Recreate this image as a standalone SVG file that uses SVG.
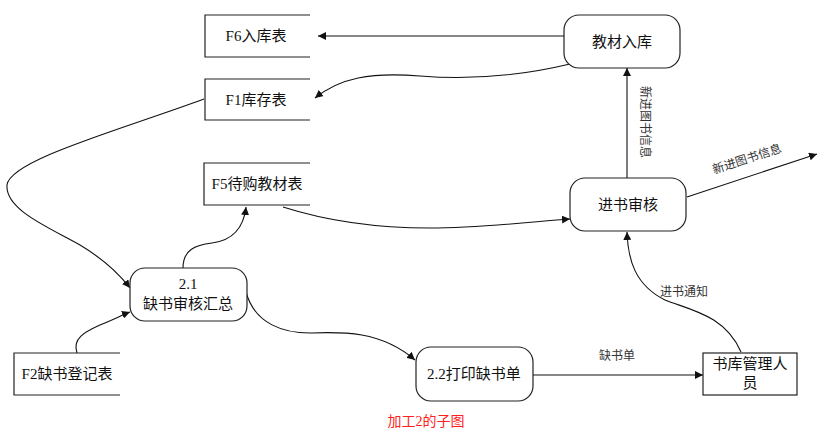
<svg xmlns="http://www.w3.org/2000/svg" width="822" height="432" viewBox="0 0 822 432">
<style>
.box{fill:none;stroke:#222;stroke-width:1.2}
.proc{fill:#fff;stroke:#222;stroke-width:1.2}
.t{font-family:"Liberation Serif","Noto Sans CJK SC",serif;font-size:15px;fill:#111;text-anchor:middle;dominant-baseline:central}
.lbl{font-family:"Liberation Serif","Noto Sans CJK SC",serif;font-size:12px;fill:#333;text-anchor:middle;dominant-baseline:central}
.cap{font-family:"Liberation Serif","Noto Sans CJK SC",serif;font-size:14px;fill:#ff2020;text-anchor:middle;dominant-baseline:central}
.c{fill:none;stroke:#111;stroke-width:1.1;marker-end:url(#ah)}
</style>
<defs>
<marker id="ah" viewBox="0 0 10 10" refX="10" refY="5" markerWidth="8" markerHeight="8" markerUnits="userSpaceOnUse" orient="auto">
<path d="M0,0 L10,5 L0,10 z" fill="#111"/>
</marker>
</defs>
<rect width="822" height="432" fill="#fff"/>
<g id="connectors">
<path class="c" d="M564,36 L318,36"/>
<path class="c" d="M570,64 C520,76 470,80 420,76 C370,72 340,78 315,98"/>
<path class="c" d="M627,178 L627,68"/>
<path class="c" d="M687,197 L817,154"/>
<path class="c" d="M204,99 C120,130 10,160 7,185 C5,210 50,228 80,245 C105,260 120,275 130,288"/>
<path class="c" d="M183,268 C183,250 195,245 212,243 C235,240 244,225 246,207"/>
<path class="c" d="M283,207 C330,222 380,228 430,228 C480,228 530,222 570,219"/>
<path class="c" d="M77,353 C72,338 85,332 100,325 C115,319 122,315 130,312"/>
<path class="c" d="M246,292 C255,325 285,333 310,333 C340,332 380,330 415,360"/>
<path class="c" d="M533,375 L703,375"/>
<path class="c" d="M741,352 C725,315 690,310 665,300 C635,285 628,260 627,232"/>
<text class="lbl" transform="translate(645,122) rotate(90)">新进图书信息</text>
<text class="lbl" transform="translate(747,159) rotate(-18)">新进图书信息</text>
<text class="lbl" x="617" y="356">缺书单</text>
<text class="lbl" x="684" y="292">进书通知</text>
</g>
<g id="F6">
<path class="box" d="M310,15 H205 V57 H310"/>
<text class="t" x="256" y="36">F6入库表</text>
</g>
<g id="F1">
<path class="box" d="M310,79 H205 V120 H310"/>
<text class="t" x="256" y="100">F1库存表</text>
</g>
<g id="F5">
<path class="box" d="M310,163 H204 V205 H310"/>
<text class="t" x="257" y="184">F5待购教材表</text>
</g>
<g id="F2">
<path class="box" d="M120,353 H14 V395 H120"/>
<text class="t" x="67" y="374">F2缺书登记表</text>
</g>
<g id="jiaocairuku">
<rect class="proc" x="564" y="15" width="116" height="53" rx="15"/>
<text class="t" x="622" y="42">教材入库</text>
</g>
<g id="jinshushenhe">
<rect class="proc" x="570" y="178" width="116" height="53" rx="15"/>
<text class="t" x="628" y="205">进书审核</text>
</g>
<g id="p21">
<rect class="proc" x="130" y="268" width="117" height="53" rx="15"/>
<text class="t" x="188" y="284">2.1</text>
<text class="t" x="188" y="304">缺书审核汇总</text>
</g>
<g id="p22">
<rect class="proc" x="416" y="347" width="117" height="54" rx="15"/>
<text class="t" x="474" y="374">2.2打印缺书单</text>
</g>
<g id="shuku">
<rect class="proc" x="703" y="353" width="94" height="42"/>
<text class="t" x="750" y="364">书库管理人</text>
<text class="t" x="750" y="383">员</text>
</g>
<text class="cap" x="426" y="421">加工2的子图</text>
</svg>
